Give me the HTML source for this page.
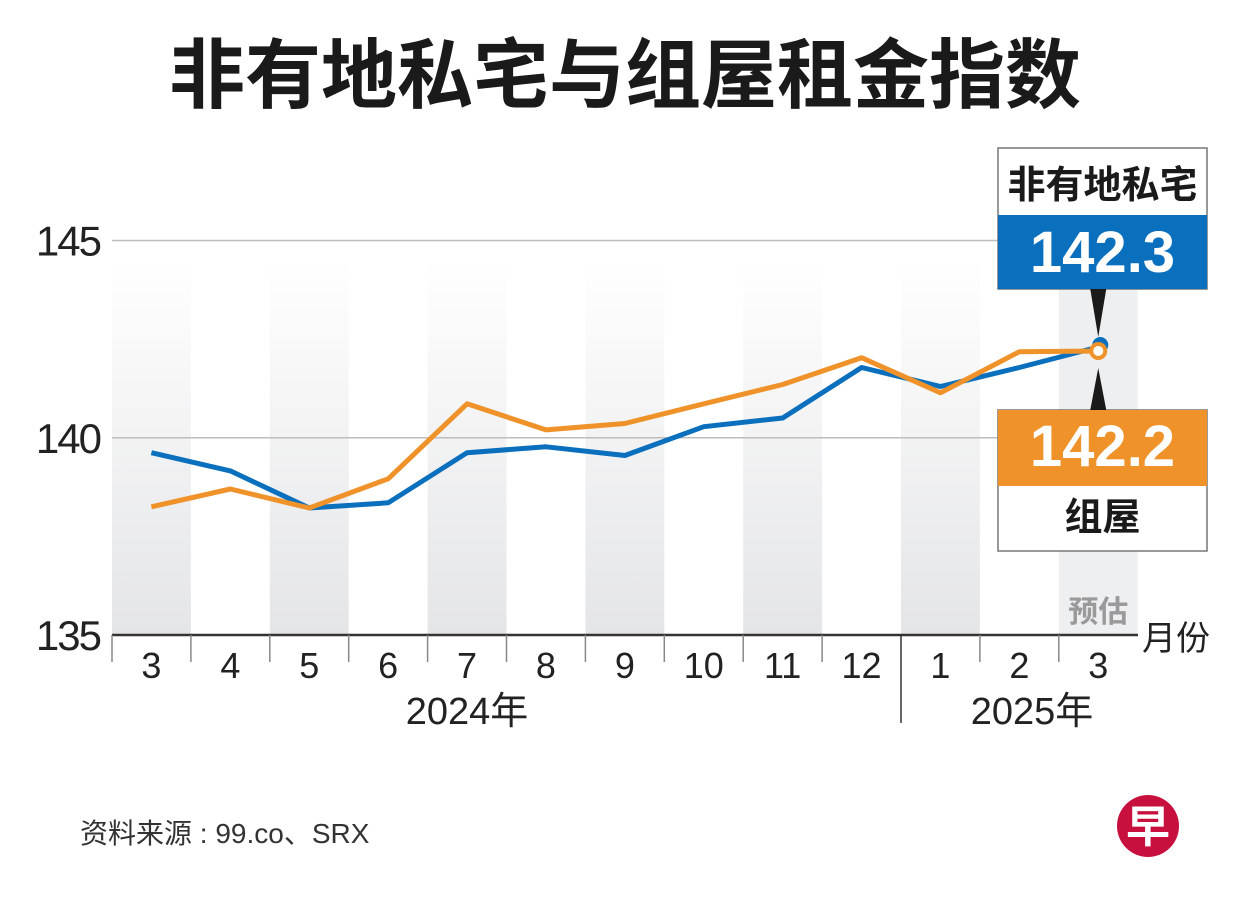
<!DOCTYPE html>
<html><head><meta charset="utf-8">
<style>
html,body{margin:0;padding:0;background:#fff;}
body{width:1251px;height:895px;overflow:hidden;font-family:"Liberation Sans","Noto Sans CJK SC",sans-serif;}
svg text{font-family:"Liberation Sans","Noto Sans CJK SC",sans-serif;}
</style></head>
<body>
<svg width="1251" height="895" viewBox="0 0 1251 895">
<defs>
<linearGradient id="g" x1="0" y1="0" x2="0" y2="1">
<stop offset="0" stop-color="#ffffff"/><stop offset="1" stop-color="#e4e5e7"/>
</linearGradient>
</defs>
<text x="625" y="102" text-anchor="middle" font-size="76" font-weight="bold" fill="#1a1a1a">非有地私宅与组屋租金指数</text>
<g id="bands"></g>
<g id="grid"></g>
<g id="axis"></g>
<g id="lines"></g>
<g id="labels"></g>
<text x="80" y="843" font-size="28" fill="#333">资料来源 : 99.co、SRX</text>
<g>
<circle cx="1148" cy="826" r="31" fill="#c8103e"/>
<text x="1148" y="842" text-anchor="middle" font-size="44" font-weight="bold" fill="#fff">早</text>
</g>
</svg>
<script>
const months = ["3","4","5","6","7","8","9","10","11","12","1","2","3"];
const privateVals = [139.62,139.16,138.22,138.35,139.62,139.77,139.55,140.28,140.5,141.78,141.3,141.78,142.3];
const hdbVals = [138.25,138.7,138.22,138.96,140.86,140.2,140.36,140.86,141.35,142.03,141.14,142.18,142.2];
const yTicks = [135,140,145];
const years = ["2024年","2025年"];
const NS="http://www.w3.org/2000/svg";
const x0=112,colW=78.9,yBase=635,yPer=39.45;
function X(i){return x0+colW*(i+0.5);}
function Y(v){return yBase-(v-135)*yPer;}
function mk(tag,attrs,parent,txt){const e=document.createElementNS(NS,tag);for(const k in attrs)e.setAttribute(k,attrs[k]);if(txt!==undefined)e.textContent=txt;document.getElementById(parent).appendChild(e);return e;}
for(let i=0;i<months.length;i+=2){
  const last=i===months.length-1;
  const r=mk('rect',{x:x0+colW*i,y:258,width:colW,height:yBase-258,fill:last?'#eeeff0':'url(#g)'},'bands');
  
  
}
const est=mk('text',{x:X(12),y:622,'text-anchor':'middle','font-size':30,'font-weight':'bold',fill:'#9a9a9a'},'bands','预估');


yTicks.forEach(v=>{
  if(v>135){const l=mk('line',{x1:112,x2:1000,y1:Y(v),y2:Y(v),stroke:'#bdbdbd','stroke-width':1.5},'grid');
  
  }
  const t=mk('text',{x:100,y:Y(v)+15,'text-anchor':'end','font-size':42,fill:'#222','letter-spacing':'-2'},'grid',String(v));
  
  
});
const ax=mk('line',{x1:112,x2:1138,y1:yBase,y2:yBase,stroke:'#333','stroke-width':2.5},'axis');


for(let i=0;i<months.length;i++){
  const tx=x0+colW*i;
  const tk=mk('line',{x1:tx,x2:tx,y1:yBase,y2:i===10?723:662,stroke:i===10?'#333':'#888','stroke-width':1.5},'axis');
  
  
}
months.forEach((m,i)=>{
  const t=mk('text',{x:X(i),y:678,'text-anchor':'middle','font-size':36,fill:'#222'},'axis',m);
  
  
});
const yr1=mk('text',{x:467,y:724,'text-anchor':'middle','font-size':38,fill:'#222'},'axis',years[0]);


const yr2=mk('text',{x:1032,y:724,'text-anchor':'middle','font-size':38,fill:'#222'},'axis',years[1]);


const mu=mk('text',{x:1142,y:650,'font-size':34,fill:'#222'},'axis','月份');


function pts(a){return a.map((v,i)=>X(i).toFixed(1)+','+Y(v).toFixed(1)).join(' ');}
const pl=mk('polyline',{points:pts(privateVals),fill:'none',stroke:'#0a6fbd','stroke-width':5,'stroke-linejoin':'round'},'lines');


const hl=mk('polyline',{points:pts(hdbVals),fill:'none',stroke:'#f0922a','stroke-width':5,'stroke-linejoin':'round'},'lines');


const n=months.length-1;
const pd=mk('circle',{cx:X(n)+2,cy:Y(privateVals[n])-2,r:8,fill:'#0a6fbd'},'lines');


const hd=mk('circle',{cx:X(n),cy:Y(hdbVals[n]),r:7,fill:'#fff',stroke:'#f0922a','stroke-width':4},'lines');


const L=998,W=209,cx=X(n);
const g=[
 ['rect',{x:L,y:148,width:W,height:141,fill:'#fff',stroke:'#777','stroke-width':1.5},'private-callout-box'],
 ['rect',{x:L,y:215,width:W,height:74,fill:'#0a6fbd'},'private-value-bg'],
 ['polygon',{points:`${cx-8},289 ${cx+8},289 ${cx},337`,fill:'#1a1a1a'},'private-pointer'],
 ['rect',{x:L,y:410,width:W,height:141,fill:'#fff',stroke:'#777','stroke-width':1.5},'hdb-callout-box'],
 ['rect',{x:L,y:410,width:W,height:76,fill:'#f0922a'},'hdb-value-bg'],
 ['polygon',{points:`${cx-8},410 ${cx+8},410 ${cx},368`,fill:'#1a1a1a'},'hdb-pointer']
];
g.forEach(([t,a,nm])=>{const e=mk(t,a,'labels');});
const t1=mk('text',{x:L+W/2,y:198,'text-anchor':'middle','font-size':38,'font-weight':'bold',fill:'#1a1a1a'},'labels','非有地私宅');


const t2=mk('text',{x:L+W/2,y:272,'text-anchor':'middle','font-size':58,'font-weight':'bold',fill:'#fff'},'labels',privateVals[n].toFixed(1));


const t3=mk('text',{x:L+W/2,y:466,'text-anchor':'middle','font-size':58,'font-weight':'bold',fill:'#fff'},'labels',hdbVals[n].toFixed(1));


const t4=mk('text',{x:L+W/2,y:530,'text-anchor':'middle','font-size':38,'font-weight':'bold',fill:'#1a1a1a'},'labels','组屋');


</script>
</body></html>
